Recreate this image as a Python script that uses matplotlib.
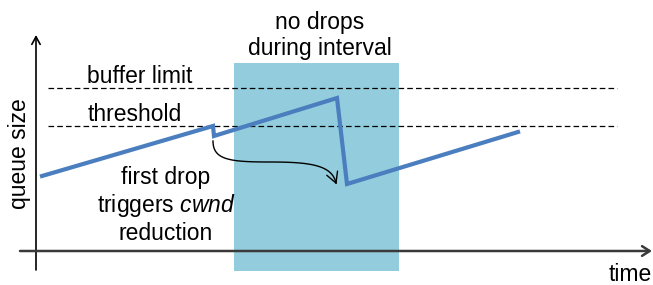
import numpy as np
import matplotlib.pyplot as plt
from matplotlib.patches import Rectangle

plt.rcParams['font.family'] = ['Liberation Sans', 'DejaVu Sans']
plt.rcParams['mathtext.fontset'] = 'custom'
plt.rcParams['mathtext.rm'] = 'Liberation Sans'
plt.rcParams['mathtext.it'] = 'Liberation Sans:italic'

# schematic queue trace: time vs queue size
time = [6, 177, 178, 301, 311, 482]
queue = [75, 125, 115, 153, 67, 119]
buffer_limit = 163
threshold = 125
interval_start, interval_end = 198, 363   # no drops during this interval

blue = "#4A7EBF"
fs = 16.5


def bezier(p0, p1, p2, p3, n=40):
    s = np.linspace(0, 1, n)[:, None]
    p0, p1, p2, p3 = map(np.array, (p0, p1, p2, p3))
    return (1 - s) ** 3 * p0 + 3 * (1 - s) ** 2 * s * p1 + 3 * (1 - s) * s ** 2 * p2 + s ** 3 * p3


fig = plt.figure(figsize=(6.53, 2.85), dpi=100)
ax = fig.add_axes([0, 0, 1, 1])
ax.set_xlim(-36, 617)
ax.set_ylim(-34, 251)
ax.axis("off")

# shaded interval
ax.add_patch(Rectangle((interval_start, -20), interval_end - interval_start, 208,
                       facecolor="#93CDDD", edgecolor="none", zorder=1))

# axes with open arrow heads
ax.annotate("", xy=(0, 216), xytext=(0, -19),
            arrowprops=dict(arrowstyle="->,head_length=0.55,head_width=0.3",
                            color="black", lw=1.2, shrinkA=0, shrinkB=0), zorder=3)
ax.annotate("", xy=(616, 0), xytext=(-16, 0),
            arrowprops=dict(arrowstyle="->,head_length=0.55,head_width=0.35",
                            color="#3a3a3a", lw=1.8, shrinkA=0, shrinkB=0), zorder=3)

# dashed levels
ax.plot([12, 581], [buffer_limit, buffer_limit], ls=(0, (4.5, 2.5)), color="black", lw=0.9, zorder=2)
ax.plot([12, 581], [threshold, threshold], ls=(0, (4.5, 2.5)), color="black", lw=0.9, zorder=2)

# queue trace
ax.plot(time, queue, color=blue, lw=3, solid_joinstyle="miter", zorder=4)

# curved arrow from first drop to reduction
c1 = bezier((177, 110), (177, 91), (194, 89), (234, 89))
c2 = bezier((234, 89), (274, 89), (296, 86), (300, 68))
curve = np.vstack([c1, c2])
ax.plot(curve[:, 0], curve[:, 1], color="black", lw=1.0, zorder=5)
# open arrow head (1 data unit == 1 pixel here)
tip = curve[-1]
d = tip - curve[-6]
ang = np.arctan2(d[1], d[0])
for da in (np.pi - 0.5, np.pi + 0.5):
    arm = tip + 12 * np.array([np.cos(ang + da), np.sin(ang + da)])
    ax.plot([tip[0], arm[0]], [tip[1], arm[1]], color="black", lw=1.0,
            solid_capstyle="round", zorder=5)

# labels
ax.text(284, 196, "no drops\nduring interval", ha="center", va="baseline",
        multialignment="center", fontsize=fs, linespacing=1.15)
ax.text(51, 168, "buffer limit", ha="left", va="baseline", fontsize=fs)
ax.text(52, 130, "threshold", ha="left", va="baseline", fontsize=fs)
ax.text(130, 11, "first drop\ntriggers $\\it{cwnd}$\nreduction", ha="center", va="baseline",
        multialignment="center", fontsize=fs, linespacing=1.15)
ax.text(-16, 97, "queue size", rotation=90, ha="center", va="center", fontsize=fs)
ax.text(616, -30, "time", ha="right", va="baseline", fontsize=fs)

fig.savefig("out.png", dpi=100)
